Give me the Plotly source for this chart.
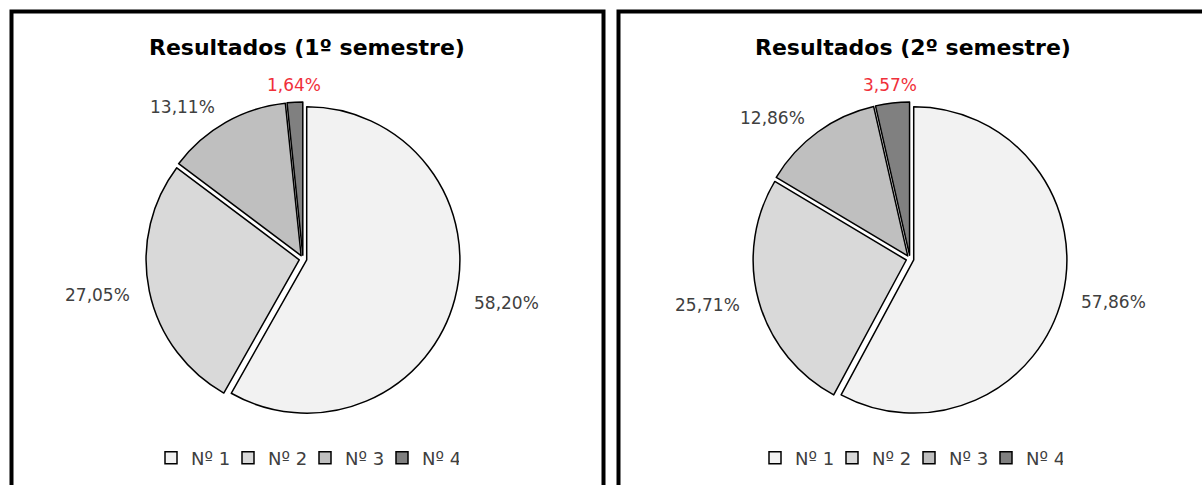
import math
import plotly.graph_objects as go

# Data
categories = ["Nº 1", "Nº 2", "Nº 3", "Nº 4"]
sem1_values = [58.20, 27.05, 13.11, 1.64]
sem2_values = [57.86, 25.71, 12.86, 3.57]
titles = ["Resultados (1º semestre)", "Resultados (2º semestre)"]

slice_colors = ["#f2f2f2", "#d9d9d9", "#bfbfbf", "#808080"]
label_colors = ["#404040", "#404040", "#404040", "#f0303a"]
FONT = "DejaVu Sans, Verdana, sans-serif"

W, H = 1202, 485
PULL = 0.025


def px_x(v):
    return v / W


def px_y(v):
    return 1 - v / H


def fmt(v):
    return f"{v:.2f}".replace(".", ",") + "%"


fig = go.Figure()

# pie geometry in pixels: centre x, centre y
pies = [
    dict(vals=sem1_values, cx=303, cy=259, legend="legend", suffix=""),
    dict(vals=sem2_values, cx=910, cy=259, legend="legend2", suffix="\u00a0"),
]
R = 157  # domain half-size in px
r_pie = R / (1 + PULL)

annotations = []
for p in pies:
    fig.add_trace(go.Pie(
        labels=[c + p["suffix"] for c in categories],
        values=p["vals"],
        textinfo="none",
        sort=False,
        direction="clockwise",
        rotation=0,
        pull=PULL,
        marker=dict(colors=slice_colors, line=dict(color="black", width=1.5)),
        domain=dict(x=[px_x(p["cx"] - R), px_x(p["cx"] + R)],
                    y=[px_y(p["cy"] + R), px_y(p["cy"] - R)]),
        legend=p["legend"],
        hoverinfo="label+percent",
    ))

    # value labels just outside each slice, on the slice bisector
    total = sum(p["vals"])
    cum = 0.0
    for v, col in zip(p["vals"], label_colors):
        mid = (cum + v / 2) / total * 2 * math.pi
        cum += v
        s, c = math.sin(mid), math.cos(mid)
        rr = r_pie * 1.14
        x = p["cx"] + rr * s
        y = p["cy"] - rr * c
        xa = "left" if s > 0.3 else ("right" if s < -0.3 else "center")
        annotations.append(dict(
            text=fmt(v), x=px_x(x), y=px_y(y), xref="paper", yref="paper",
            xanchor=xa, yanchor="middle", showarrow=False,
            font=dict(family=FONT, size=17, color=col)))

for t, cx in zip(titles, [307, 913]):
    annotations.append(dict(
        text=f"<b>{t}</b>", x=px_x(cx), y=px_y(48), xref="paper", yref="paper",
        xanchor="center", yanchor="middle", showarrow=False,
        font=dict(family=FONT, size=22, color="black")))

legend_common = dict(
    orientation="h", xanchor="center", yanchor="middle",
    y=px_y(458), font=dict(family=FONT, size=18, color="#404040"),
    itemwidth=30, entrywidth=32, bgcolor="rgba(0,0,0,0)", traceorder="normal",
)

fig.update_layout(
    width=W, height=H,
    margin=dict(l=0, r=0, t=0, b=0),
    paper_bgcolor="white", plot_bgcolor="white",
    showlegend=True,
    legend=dict(x=px_x(305), **legend_common),
    legend2=dict(x=px_x(909), **legend_common),
    shapes=[
        dict(type="rect", xref="paper", yref="paper",
             x0=px_x(11.5), x1=px_x(603.5), y0=px_y(495), y1=px_y(11.5),
             line=dict(color="black", width=4)),
        dict(type="rect", xref="paper", yref="paper",
             x0=px_x(618.5), x1=px_x(1215), y0=px_y(495), y1=px_y(11.5),
             line=dict(color="black", width=4)),
    ],
    annotations=annotations,
)

fig.write_html("out.html")
